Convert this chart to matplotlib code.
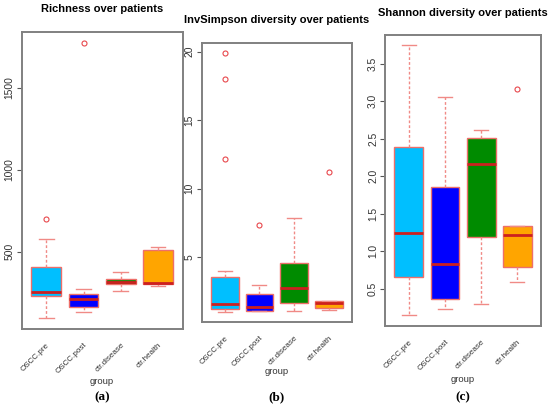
import numpy as np
import matplotlib
matplotlib.use("Agg")
import matplotlib.pyplot as plt

plt.rcParams["font.family"] = ["Liberation Sans", "DejaVu Sans"]

groups = ["OSCC.pre", "OSCC.post", "ctr.disease", "ctr.health"]
box_colors = ["#00BFFF", "#0000FF", "#008B00", "#FFA500"]

# Richness
rich_low = [94, 130, 262, 291]
rich_q1 = [230, 160, 303, 303]
rich_med = [256, 209, 317, 311]
rich_q3 = [404, 244, 334, 508]
rich_high = [579, 274, 378, 529]
rich_out = [[699], [1770], [], []]

# InvSimpson
inv_low = [1.02, 1.05, 1.07, 1.14]
inv_q1 = [1.19, 1.07, 1.63, 1.27]
inv_med = [1.6, 1.34, 2.76, 1.63]
inv_q3 = [3.58, 2.28, 4.6, 1.82]
inv_high = [4.0, 2.97, 7.85, 1.82]
inv_out = [[19.9, 18.0, 12.2], [7.34], [], [11.2]]

# Shannon
sha_low = [0.149, 0.23, 0.30, 0.59]
sha_q1 = [0.655, 0.36, 1.195, 0.79]
sha_med = [1.245, 0.83, 2.16, 1.22]
sha_q3 = [2.39, 1.85, 2.51, 1.34]
sha_high = [3.74, 3.05, 2.62, 1.34]
sha_out = [[], [], [], [3.16]]

panels = [
    ("Richness over patients", rich_low, rich_q1, rich_med, rich_q3, rich_high, rich_out,
     [500, 1000, 1500], ["500", "1000", "1500"]),
    ("InvSimpson diversity over patients", inv_low, inv_q1, inv_med, inv_q3, inv_high, inv_out,
     [5, 10, 15, 20], ["5", "10", "15", "20"]),
    ("Shannon diversity over patients", sha_low, sha_q1, sha_med, sha_q3, sha_high, sha_out,
     [0.5, 1.0, 1.5, 2.0, 2.5, 3.0, 3.5], ["0.5", "1.0", "1.5", "2.0", "2.5", "3.0", "3.5"]),
]

# axes boxes in pixels: left, right, top, bottom
W, H = 550, 408
boxes_px = [(21.7, 182.6, 32.3, 329.3), (201.7, 352.0, 42.7, 322.0), (385.0, 541.0, 34.7, 326.0)]
title_y = [9.5, 20, 13.5]
group_y = [381, 371, 379]
letters = ["(a)", "(b)", "(c)"]

edge_col = "#EE6F6A"
whisk_col = "#F08A86"
med_col = "#CC2020"

fig = plt.figure(figsize=(W / 100, H / 100), dpi=100)

for i, (title, lo, q1, med, q3, hi, out, yt, ytl) in enumerate(panels):
    l, r, t, b = boxes_px[i]
    ax = fig.add_axes([l / W, 1 - b / H, (r - l) / W, (b - t) / H])
    stats = []
    for k in range(len(groups)):
        stats.append(dict(whislo=lo[k], q1=q1[k], med=med[k], q3=q3[k], whishi=hi[k],
                          fliers=out[k], label=groups[k]))
    bp = ax.bxp(stats, positions=[1, 2, 3, 4], widths=0.8, patch_artist=True,
                showfliers=True, capwidths=0.4,
                boxprops=dict(edgecolor=edge_col, linewidth=1.0),
                medianprops=dict(color=med_col, linewidth=2.0, solid_capstyle="butt"),
                whiskerprops=dict(color=whisk_col, linewidth=1.0, linestyle=(0, (2, 1.5))),
                capprops=dict(color=whisk_col, linewidth=1.0),
                flierprops=dict(marker="o", markerfacecolor="none", markeredgecolor="#E8474C",
                                markersize=3.6, markeredgewidth=0.8))
    for patch, c in zip(bp["boxes"], box_colors):
        patch.set_facecolor(c)

    # R-style axis ranges (4% padding)
    allv = lo + hi + [v for o in out for v in o]
    vmin, vmax = min(allv), max(allv)
    pad = 0.04 * (vmax - vmin)
    ax.set_ylim(vmin - pad, vmax + pad)
    ax.set_xlim(0.34, 4.66)

    ax.set_yticks(yt)
    ax.set_yticklabels(ytl, rotation=90, va="center", fontsize=7.4, color="#333333")
    ax.tick_params(axis="y", length=3.5, width=0.8, color="#555555", pad=1.5)

    ax.set_xticks([1, 2, 3, 4])
    ax.set_xticklabels(groups, rotation=45, ha="right", rotation_mode="anchor",
                       fontsize=5.8, color="#333333")
    ax.tick_params(axis="x", length=0, pad=9)

    for s in ax.spines.values():
        s.set_color("#808080")
        s.set_linewidth(1.4)

    cx = (l + r) / 2 / W
    fig.text(cx, 1 - title_y[i] / H, title, ha="center", va="center",
             fontsize=8, fontweight="bold")
    fig.text(cx, 1 - group_y[i] / H, "group", ha="center", va="center",
             fontsize=6.8, color="#333333")
    fig.text(cx, 1 - 397 / H, letters[i], ha="center", va="center",
             fontsize=9.5, fontweight="bold", family=["Liberation Serif", "DejaVu Serif"])

fig.savefig("out.png", dpi=100)
